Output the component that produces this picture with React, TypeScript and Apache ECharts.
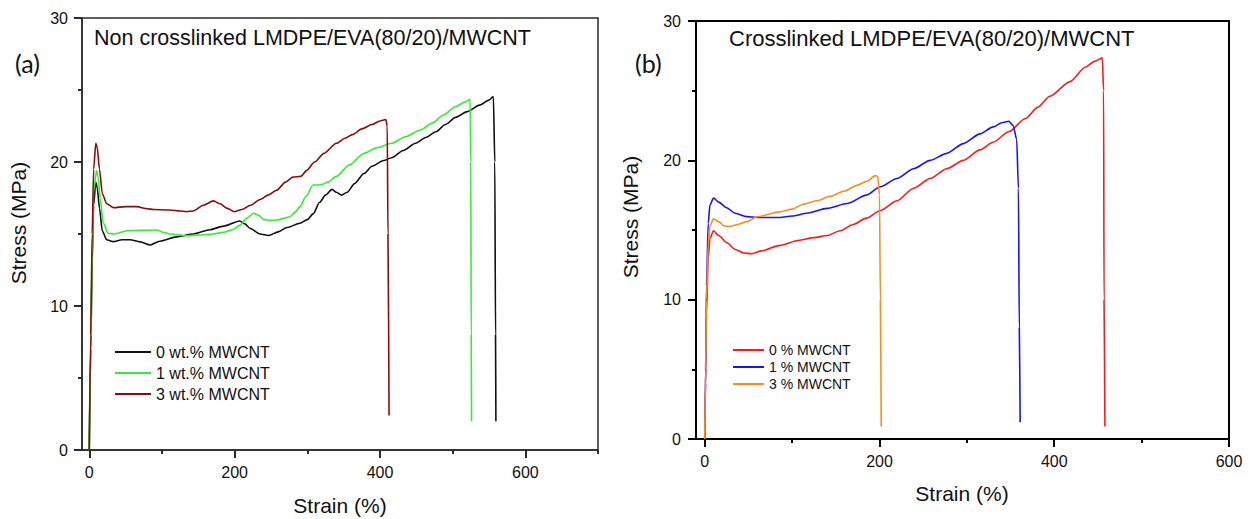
import React, { useEffect, useRef } from "react";
import * as echarts from "echarts";

// Panel (a): non crosslinked blends, strain (%) vs stress (MPa)
const namesA = ["0 wt.% MWCNT", "1 wt.% MWCNT", "3 wt.% MWCNT"];
const colorsA = ["#111111", "#33ee33", "#8b0c0c"];
const curveA0: [number, number][] = [
  [0, 0], [2, 7], [4, 13], [6, 17], [9, 18.6], [11, 18.2], [14, 16.8], [18, 15.2], [24, 14.6],
  [33, 14.47], [45, 14.6], [56, 14.6], [70, 14.45], [84, 14.24], [97, 14.5], [120, 14.8],
  [143, 15.0], [166, 15.3], [185, 15.55], [207, 15.9], [214, 15.7], [221, 15.4], [235, 15.0],
  [247, 14.9], [260, 15.15], [272, 15.45], [290, 15.75], [300, 16.0], [308, 16.4], [317, 17.2],
  [325, 17.7], [334, 18.1], [340, 17.9], [347, 17.7], [355, 17.9], [365, 18.5], [378, 19.2],
  [389, 19.7], [405, 20.1], [416, 20.3], [432, 20.8], [449, 21.3], [463, 21.7], [477, 22.1],
  [490, 22.6], [504, 23.1], [520, 23.5], [537, 23.95], [550, 24.3], [556, 24.55], [558, 20],
  [559, 8], [559.5, 2.0],
];
const curveA1: [number, number][] = [
  [0, 0], [2, 7], [4, 13.5], [6, 18], [10, 19.4], [12, 19.0], [15, 17.5], [19, 15.8], [26, 15.05],
  [35, 15.0], [52, 15.23], [70, 15.25], [93, 15.28], [103, 15.1], [111, 15.0], [134, 14.88],
  [152, 14.93], [170, 15.0], [185, 15.12], [197, 15.3], [207, 15.6], [217, 16.1], [226, 16.44],
  [233, 16.3], [240, 16.0], [250, 15.95], [258, 15.97], [276, 16.2], [283, 16.5], [290, 16.9],
  [298, 17.6], [308, 18.4], [318, 18.4], [328, 18.6], [340, 19.0], [358, 19.8], [378, 20.6],
  [396, 21.0], [416, 21.3], [435, 21.75], [455, 22.2], [472, 22.7], [487, 23.25], [504, 23.84],
  [516, 24.15], [524, 24.35], [525, 20], [525.5, 8], [526, 2.0],
];
const curveA3: [number, number][] = [
  [0, 0], [2, 8], [4, 15], [6, 19.5], [9, 21.3], [11, 21.0], [14, 19.5], [18, 17.8], [24, 17.1],
  [33, 16.83], [50, 16.9], [65, 16.9], [80, 16.75], [88, 16.7], [111, 16.67], [125, 16.6],
  [134, 16.55], [143, 16.6], [157, 17.0], [171, 17.3], [180, 17.1], [189, 16.8], [200, 16.55],
  [210, 16.7], [222, 17.0], [235, 17.4], [246, 17.7], [258, 18.05], [270, 18.6], [280, 18.95],
  [291, 19.0], [299, 19.4], [310, 20.0], [323, 20.6], [340, 21.3], [352, 21.65], [362, 21.9],
  [375, 22.3], [389, 22.6], [400, 22.85], [408, 22.95], [410, 22.5], [411, 15], [412.5, 2.4],
];

// Panel (b): crosslinked blends
const namesB = ["0 % MWCNT", "1 % MWCNT", "3 % MWCNT"];
const colorsB = ["#ff1a1a", "#1414ff", "#ff8c1a"];
const curveB0: [number, number][] = [
  [0, 0], [1, 4], [2, 9], [4, 13], [6, 14.4], [10, 14.95], [16, 14.6], [25, 14.1], [35, 13.6],
  [45, 13.35], [54, 13.3], [65, 13.5], [86, 13.9], [107, 14.25], [125, 14.45], [140, 14.6],
  [155, 14.95], [170, 15.4], [185, 15.85], [201, 16.4], [220, 17.1], [239, 18.0], [258, 18.7],
  [277, 19.4], [296, 20.0], [315, 20.75], [330, 21.3], [348, 22.05], [367, 23.0], [381, 23.8],
  [395, 24.6], [418, 25.65], [436, 26.7], [446, 27.1], [455, 27.35], [456.5, 25], [457, 10],
  [458, 0.9],
];
const curveB1: [number, number][] = [
  [0, 0], [1, 5], [2, 11], [4, 15.5], [6, 16.8], [10, 17.3], [16, 17.0], [25, 16.6], [35, 16.2],
  [48, 15.96], [60, 15.9], [86, 15.9], [100, 16.0], [117, 16.2], [140, 16.55], [163, 16.9],
  [185, 17.5], [201, 18.1], [220, 18.7], [239, 19.4], [258, 20.0], [277, 20.5], [296, 21.2],
  [315, 21.9], [330, 22.4], [340, 22.7], [348, 22.8], [353, 22.5], [357, 21.5], [359, 18],
  [360, 8], [361, 1.2],
];
const curveB3: [number, number][] = [
  [0, 0], [1, 5], [2, 10], [4, 14], [6, 15.3], [10, 15.8], [16, 15.6], [22, 15.3], [28, 15.25],
  [38, 15.4], [48, 15.6], [60, 15.95], [86, 16.3], [100, 16.5], [113, 16.85], [128, 17.1],
  [143, 17.4], [160, 17.8], [174, 18.2], [186, 18.5], [195, 18.9], [198, 18.85], [200, 17.5],
  [201, 10], [202, 0.9],
];

const majorStrainTicks = [0, 200, 400, 600];
const minorStrainTicksA = [100, 300, 500, 700];
const minorStrainTicksB = [100, 300, 500];

const FONT = "'Liberation Sans', Arial, sans-serif";

export default function App() {
  const ref = useRef<HTMLDivElement>(null);

  useEffect(() => {
    if (!ref.current) return;
    const chart = echarts.init(ref.current, undefined, { renderer: "svg" });

    const frameA = "#2a2a2a";
    const frameB = "#000000";

    const mainX = (gridIndex: number, min: number, max: number, color: string, w: number) => ({
      type: "value",
      gridIndex,
      position: "bottom",
      min,
      max,
      axisLine: { show: true, onZero: false, lineStyle: { color, width: w } },
      axisTick: { show: true, length: 8, customValues: majorStrainTicks, lineStyle: { color, width: 2 } },
      axisLabel: { show: true, customValues: majorStrainTicks, margin: 14, fontFamily: FONT, fontSize: 16, color: "#111" },
      splitLine: { show: false },
    });
    // second axis on the same edge, carrying only the short in-between ticks
    const minorX = (gridIndex: number, min: number, max: number, ticks: number[], color: string) => ({
      type: "value",
      gridIndex,
      position: "bottom",
      offset: 0,
      min,
      max,
      axisLine: { show: false, onZero: false },
      axisTick: { show: true, length: 4, customValues: ticks, lineStyle: { color, width: 2 } },
      axisLabel: { show: false },
      splitLine: { show: false },
    });
    const yAx = (gridIndex: number, color: string, w: number, margin: number) => ({
      type: "value",
      gridIndex,
      min: 0,
      max: 30,
      interval: 10,
      axisLine: { show: true, onZero: false, lineStyle: { color, width: w } },
      axisTick: { show: true, length: 8, lineStyle: { color, width: 2 } },
      minorTick: { show: true, splitNumber: 2, length: 4, lineStyle: { color, width: 2 } },
      axisLabel: { margin, fontFamily: FONT, fontSize: 16, color: "#111" },
      splitLine: { show: false },
    });

    const line = (name: string, data: [number, number][], color: string, xi: number, yi: number) => ({
      name,
      type: "line",
      data,
      xAxisIndex: xi,
      yAxisIndex: yi,
      symbol: "none",
      smooth: 0.25,
      smoothMonotone: "x",
      lineStyle: { color, width: 1.6 },
      itemStyle: { color },
    });

    const txt = (text: string, x: number, y: number, size: number, extra: any = {}) => ({
      type: "text",
      x,
      y,
      style: { text, fontFamily: FONT, fontSize: size, fill: "#111", textVerticalAlign: "middle", ...extra.style },
      ...extra.el,
    });

    chart.setOption({
      animation: false,
      backgroundColor: "#ffffff",
      grid: [
        { left: 82, top: 18, width: 516, height: 432, show: true, borderColor: frameA, borderWidth: 1.5, backgroundColor: "transparent" },
        { left: 696, top: 21, width: 533, height: 418, show: true, borderColor: frameB, borderWidth: 2, backgroundColor: "transparent" },
      ],
      xAxis: [
        mainX(0, -10, 700, frameA, 1.5),
        minorX(0, -10, 700, minorStrainTicksA, frameA),
        mainX(1, -10, 600, frameB, 2),
        minorX(1, -10, 600, minorStrainTicksB, frameB),
      ],
      yAxis: [yAx(0, frameA, 1.5, 14), yAx(1, frameB, 2, 15)],
      legend: [
        {
          data: namesA,
          orient: "vertical",
          left: 110,
          top: 339,
          icon: "rect",
          itemWidth: 36,
          itemHeight: 2,
          itemGap: 5,
          selectedMode: false,
          textStyle: { fontFamily: FONT, fontSize: 16, color: "#111", lineHeight: 16 },
        },
        {
          data: namesB,
          orient: "vertical",
          left: 728,
          top: 338,
          icon: "rect",
          itemWidth: 31,
          itemHeight: 2,
          itemGap: 3,
          selectedMode: false,
          textStyle: { fontFamily: FONT, fontSize: 14, color: "#111", lineHeight: 14 },
        },
      ],
      series: [
        line(namesA[0], curveA0, colorsA[0], 0, 0),
        line(namesA[1], curveA1, colorsA[1], 0, 0),
        line(namesA[2], curveA3, colorsA[2], 0, 0),
        line(namesB[0], curveB0, colorsB[0], 2, 1),
        line(namesB[1], curveB1, colorsB[1], 2, 1),
        line(namesB[2], curveB3, colorsB[2], 2, 1),
      ],
      graphic: [
        txt("Non crosslinked LMDPE/EVA(80/20)/MWCNT", 94, 38, 21.5),
        txt("Crosslinked LMDPE/EVA(80/20)/MWCNT", 729, 38, 22),
        txt("(a)", 15, 63, 25, { style: { fontFamily: "Lato, 'Open Sans', sans-serif" } }),
        txt("(b)", 635, 63, 25, { style: { fontFamily: "Lato, 'Open Sans', sans-serif" } }),
        txt("Strain (%)", 340, 505, 21, { style: { textAlign: "center" } }),
        txt("Strain (%)", 962, 493, 21, { style: { textAlign: "center" } }),
        txt("Stress (MPa)", 18, 223, 21, { style: { textAlign: "center" }, el: { rotation: Math.PI / 2 } }),
        txt("Stress (MPa)", 630, 217, 21, { style: { textAlign: "center" }, el: { rotation: Math.PI / 2 } }),
      ],
    });

    return () => chart.dispose();
  }, []);

  return (
    <div
      ref={ref}
      style={{ position: "fixed", left: 0, top: 0, width: 1254, height: 519, background: "#fff" }}
    />
  );
}
